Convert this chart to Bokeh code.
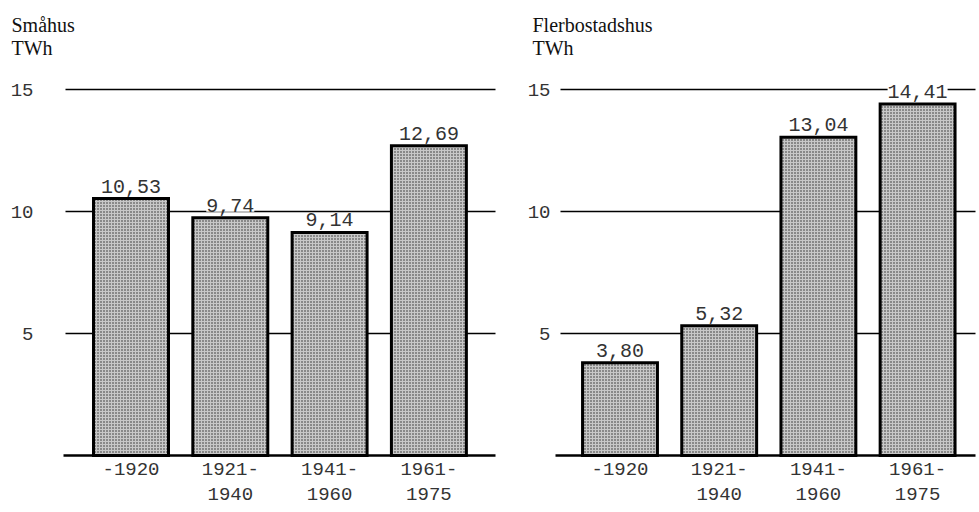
from bokeh.plotting import figure
from bokeh.models import ColumnDataSource, LabelSet, Range1d
from bokeh.core.properties import value
from bokeh.layouts import row
from bokeh.embed import file_html
from bokeh.resources import INLINE

# ---- data ----
period_line1 = ["-1920", "1921-", "1941-", "1961-"]
period_line2 = ["", "1940", "1960", "1975"]
smahus = [10.53, 9.74, 9.14, 12.69]
flerbostadshus = [3.80, 5.32, 13.04, 14.41]
y_ticks = [5, 10, 15]
titles = ["Småhus\nTWh", "Flerbostadshus\nTWh"]

MONO = "Liberation Mono"
SERIF = "Liberation Serif"
PX = 24.4          # pixels per TWh
BASE = 455         # baseline, px from figure top
HEIGHT = 512


def fmt(v):
    return f"{v:.2f}".replace(".", ",")


def panel(title, values, width, center0, pitch, grid_x0, base_x0, grid_x1,
          tick_right, title_x):
    # pixel positions are relative to the figure's left edge
    d = lambda px: (px - center0) / pitch
    xs = list(range(len(period_line1)))
    src = ColumnDataSource(dict(x=xs, top=values, label=[fmt(v) for v in values]))
    p = figure(width=width, height=HEIGHT, output_backend="svg", toolbar_location=None,
               x_range=Range1d(d(0), d(width)),
               y_range=Range1d(-(HEIGHT - BASE) / PX, BASE / PX),
               min_border=0)
    p.axis.visible = False
    p.grid.grid_line_color = None
    p.outline_line_color = None
    p.background_fill_color = "white"
    p.border_fill_color = "white"

    # horizontal grid lines
    n = len(y_ticks)
    p.segment(x0=[d(grid_x0)] * n, x1=[d(grid_x1)] * n, y0=y_ticks, y1=y_ticks,
              line_color="black", line_width=1.5)
    # baseline
    p.segment(x0=[d(base_x0)], x1=[d(grid_x1)], y0=[0], y1=[0],
              line_color="black", line_width=2.5)

    # y tick labels
    p.text(x=[d(tick_right)] * n, y=y_ticks, text=[str(t) for t in y_ticks],
           text_align="right", text_baseline="middle",
           text_font=value(MONO), text_font_size=value("19px"), text_color="#333333")

    # bars
    p.vbar(x="x", top="top", width=0.755, source=src,
           fill_color="#c8c8c8", hatch_pattern="dot", hatch_color="#2a2a2a",
           hatch_scale=3, line_color="black", line_width=3, line_join="miter")

    # category labels under the baseline (two typed lines)
    for lines, off in ((period_line1, 7), (period_line2, 32)):
        p.text(x=xs, y=[-off / PX] * len(xs), text=lines,
               text_align="center", text_baseline="top",
               text_font=value(MONO), text_font_size=value("19px"), text_color="#333333")

    # value labels (white background breaks the grid lines as in the original)
    labels = LabelSet(x="x", y="top", text="label", source=src,
                      text_align="center", text_baseline="bottom", y_offset=6,
                      text_font=value(MONO), text_font_size=value("20px"),
                      text_color="#333333", background_fill_color="white")
    p.add_layout(labels)

    # panel title
    p.text(x=[d(title_x)], y=[(BASE - 13) / PX], text=[title],
           text_align="left", text_baseline="top", text_line_height=1.05,
           text_font=value(SERIF), text_font_size=value("20px"), text_color="#111111")
    return p


# left figure spans page x 0..508, right figure 508..979
left = panel(titles[0], smahus, 508, 130.5, 99.3, 65, 63, 495, 33, 11)
right = panel(titles[1], flerbostadshus, 471, 111.5, 99.2, 52, 47, 467, 42, 24)

layout = row(left, right, spacing=0)
open("out.html", "w").write(file_html(layout, INLINE))
